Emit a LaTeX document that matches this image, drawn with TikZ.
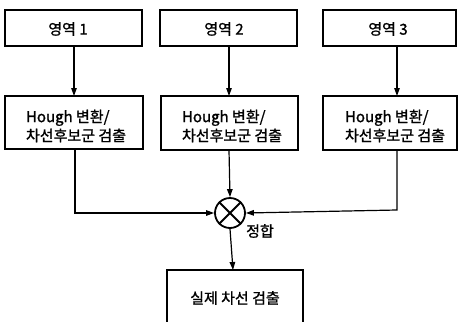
\documentclass[tikz,border=0pt]{standalone}
\usepackage{fontspec}
\setmainfont{Noto Sans CJK KR}[FakeBold=1.2,AutoFakeBold=1.2]
\usetikzlibrary{arrows.meta}
\begin{document}
\begin{tikzpicture}[x=1pt,y=-1pt,
  box/.style={draw,line width=1.7pt,inner sep=0pt},
  lbl/.style={font=\fontsize{15}{19}\selectfont\bfseries,align=left},
  conn/.style={line width=1.2pt,-{Triangle[length=8pt,width=5.5pt]}}]
\useasboundingbox (0,0) rectangle (459,322);
\begin{scope}
\clip (0,0) rectangle (459,322);
% top row
\draw[box] (5,10) rectangle (142,46);
\draw[box] (160,10) rectangle (297,46);
\draw[box] (323,10) rectangle (456,46);
\node[lbl] (r1) at (68,29) {영역 1};
\node[lbl] (r2) at (224,29) {영역 2};
\node[lbl] (r3) at (388,29) {영역 3};
\coordinate (t1) at (74,46); \coordinate (t2) at (229,46); \coordinate (t3) at (397,46);
% middle row
\draw[box] (5,96) rectangle (143,149);
\draw[box] (161,96) rectangle (298,150);
\draw[box] (323,96) rectangle (457,150);
\node[lbl] (h1) at (76,126) {Hough 변환/\\차선후보군 검출};
\node[lbl] (h2) at (232,126) {Hough 변환/\\차선후보군 검출};
\node[lbl] (h3) at (395,126) {Hough 변환/\\차선후보군 검출};
\coordinate (m1t) at (74,96); \coordinate (m2t) at (229,96); \coordinate (m3t) at (397,96);
\coordinate (m1b) at (75,149); \coordinate (m2b) at (229,150); \coordinate (m3b) at (397,150);
\draw[conn] (t1) -- (m1t);
\draw[conn] (t2) -- (m2t);
\draw[conn] (t3) -- (m3t);
% combiner
\node[draw,circle,line width=1.8pt,minimum size=30pt,inner sep=0pt] (x) at (230,213) {};
\draw[line width=1.8pt] (x.north west) -- (x.south east) (x.north east) -- (x.south west);
\node[font=\fontsize{15}{16}\selectfont\bfseries,anchor=west,inner sep=0pt] (jh) at (246,231) {정합};
\draw[conn] (m1b) -- (75,213) -- (x.west);
\draw[conn] (m2b) -- (x.north);
\draw[conn] (m3b) -- (397,210) -- (x.east);
% bottom
\draw[box] (167,270) rectangle (303,340);
\node[lbl] (out) at (235,298) {실제 차선 검출};
\coordinate (ob) at (233,270);
\draw[conn] (x.south) -- (ob);
\end{scope}
\end{tikzpicture}
\end{document}
